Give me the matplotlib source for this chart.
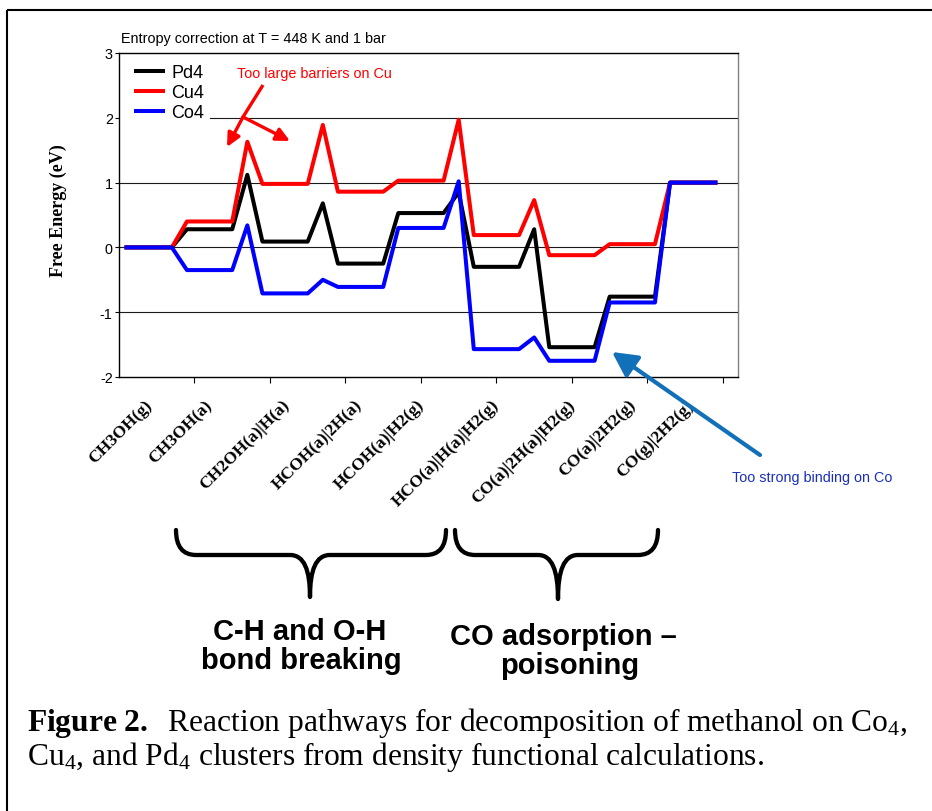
import numpy as np
import matplotlib
matplotlib.use("Agg")
import matplotlib.pyplot as plt
from matplotlib.path import Path
from matplotlib.patches import PathPatch, FancyArrowPatch, Rectangle
from matplotlib.lines import Line2D
from matplotlib.transforms import Affine2D

# free energy (eV) along the reaction coordinate, 40 points per cluster
steps = list(range(40))
pd4 = [0.0, 0.0, 0.0, 0.0, 0.28, 0.28, 0.28, 0.28, 1.12,
       0.09, 0.09, 0.09, 0.09, 0.68, -0.25, -0.25, -0.25, -0.25,
       0.53, 0.53, 0.53, 0.53, 0.85, -0.30, -0.30, -0.30, -0.30, 0.28,
       -1.54, -1.54, -1.54, -1.54, -0.76, -0.76, -0.76, -0.76,
       1.0, 1.0, 1.0, 1.0]
cu4 = [0.0, 0.0, 0.0, 0.0, 0.40, 0.40, 0.40, 0.40, 1.63,
       0.98, 0.98, 0.98, 0.98, 1.89, 0.86, 0.86, 0.86, 0.86,
       1.03, 1.03, 1.03, 1.03, 1.97, 0.19, 0.19, 0.19, 0.19, 0.73,
       -0.12, -0.12, -0.12, -0.12, 0.05, 0.05, 0.05, 0.05,
       1.0, 1.0, 1.0, 1.0]
co4 = [0.0, 0.0, 0.0, 0.0, -0.35, -0.35, -0.35, -0.35, 0.34,
       -0.71, -0.71, -0.71, -0.71, -0.50, -0.61, -0.61, -0.61, -0.61,
       0.30, 0.30, 0.30, 0.30, 1.02, -1.57, -1.57, -1.57, -1.57, -1.39,
       -1.75, -1.75, -1.75, -1.75, -0.85, -0.85, -0.85, -0.85,
       1.0, 1.0, 1.0, 1.0]

states = ["CH3OH(g)", "CH3OH(a)", "CH2OH(a)|H(a)", "HCOH(a)|2H(a)",
          "HCOH(a)|H2(g)", "HCO(a)|H(a)|H2(g)", "CO(a)|2H(a)|H2(g)",
          "CO(a)|2H2(g)", "CO(g)|2H2(g)"]

W, H = 932, 812
plt.rcParams["font.family"] = ["Liberation Sans", "DejaVu Sans"]
plt.rcParams["mathtext.fontset"] = "custom"
plt.rcParams["mathtext.rm"] = "Liberation Serif"
plt.rcParams["mathtext.bf"] = "Liberation Serif:bold"
plt.rcParams["mathtext.it"] = "Liberation Serif:italic"

fig = plt.figure(figsize=(W / 100, H / 100), dpi=100)
# pixel coordinates on the page, origin top-left
page = Affine2D().scale(1 / W, -1 / H).translate(0, 1) + fig.transFigure

ax = fig.add_axes([119 / W, 1 - 378 / H, (738 - 119) / W, (378 - 54) / H])
ax.plot(steps, pd4, color="black", lw=2.9, label="Pd4", zorder=3)
ax.plot(steps, cu4, color="#ff0000", lw=2.9, label="Cu4", zorder=3)
ax.plot(steps, co4, color="#0000ff", lw=2.9, label="Co4", zorder=3)

ax.set_xlim(-0.5, 40.5)
ax.set_ylim(-2, 3)

for y in (-1, 0, 1):
    ax.axhline(y, color="#1a1a1a", lw=0.8, zorder=1)
ax.axhline(2, xmin=0.147, color="#1a1a1a", lw=0.8, zorder=1)

for side in ("left", "bottom", "top"):
    ax.spines[side].set_color("black")
    ax.spines[side].set_linewidth(1.0)
ax.spines["right"].set_color("#808080")
ax.spines["right"].set_linewidth(1.0)

ax.set_yticks([-2, -1, 0, 1, 2, 3])
ax.set_yticklabels(["-2", "-1", "0", "1", "2", "3"])
ax.tick_params(axis="y", length=3, width=0.8, pad=1.5, labelsize=10.4)

label_at = [1.9, 5.9, 11.0, 15.8, 19.9, 24.9, 29.9, 33.9, 37.8]
ax.set_xticks(label_at)
ax.set_xticklabels(states, rotation=45, ha="right",
                   fontfamily="Liberation Serif", fontweight="bold", fontsize=12.5)
ax.tick_params(axis="x", which="major", length=0, pad=14)
ax.set_xticks(np.arange(4.5, 40, 5), minor=True)
ax.tick_params(axis="x", which="minor", length=4.5, width=0.8)

ax.legend(loc="upper left", bbox_to_anchor=(0.0275, 0.966), frameon=False,
          fontsize=13, handlelength=1.5, handletextpad=0.44,
          labelspacing=0.17, borderpad=0, borderaxespad=0)

fig.text(58, 211, "Free Energy (eV)", transform=page, rotation=90,
         ha="center", va="center", family="Liberation Serif",
         fontweight="bold", fontsize=13)
fig.text(121, 43, "Entropy correction at T = 448 K and 1 bar",
         transform=page, fontsize=10.4, va="baseline")

# barrier callout
fig.text(237, 78, "Too large barriers on Cu", transform=page,
         color="#ff0000", fontsize=10.4, va="baseline")
fig.add_artist(Line2D([263, 243], [86, 118], transform=page,
                      color="#ff0000", lw=2.4, solid_capstyle="butt"))
for tip in [(227, 148), (290, 142)]:
    fig.add_artist(FancyArrowPatch((243, 118), tip, transform=page,
                                   arrowstyle="-|>,head_length=0.45,head_width=0.22",
                                   mutation_scale=18, color="#ff0000", lw=2.4,
                                   shrinkA=0, shrinkB=0))

# binding callout
fig.text(732, 482, "Too strong binding on Co", transform=page,
         color="#1a2fbf", fontsize=10.4, va="baseline")
fig.add_artist(FancyArrowPatch((760, 456), (612, 353), transform=page,
                               arrowstyle="-|>,head_length=0.5,head_width=0.26",
                               mutation_scale=30, color="#1170b8", lw=3.0,
                               shrinkA=0, shrinkB=0))


def brace(x0, xm, x1, top, mid, tip, r=20):
    verts = [(x0, top), (x0, mid), (x0 + r, mid),
             (xm - r, mid), (xm - 0.3 * r, mid), (xm, mid + 0.35 * (tip - mid)), (xm, tip),
             (xm, mid + 0.35 * (tip - mid)), (xm + 0.3 * r, mid), (xm + r, mid),
             (x1 - r, mid), (x1, mid), (x1, top)]
    codes = [Path.MOVETO, Path.CURVE3, Path.CURVE3,
             Path.LINETO, Path.CURVE4, Path.CURVE4, Path.CURVE4,
             Path.CURVE4, Path.CURVE4, Path.CURVE4,
             Path.LINETO, Path.CURVE3, Path.CURVE3]
    fig.add_artist(PathPatch(Path(verts, codes), transform=page, fill=False,
                             lw=3.1, ec="black", capstyle="round", joinstyle="round"))


brace(176, 310, 446, 531, 556, 598)
brace(455, 558, 658, 531, 556, 600)

for x, y, s in [(300, 640, "C-H and O-H"), (301, 669, "bond breaking"),
                (563, 645, "CO adsorption \u2013"), (570, 674, "poisoning")]:
    fig.text(x, y, s, transform=page, ha="center", va="baseline",
             fontsize=21, fontweight="bold")

fig.text(27, 731, r"$\mathbf{Figure\ 2.}$  Reaction pathways for decomposition of methanol on Co$_\mathrm{4}$,",
         transform=page, family="Liberation Serif", fontsize=22.7, va="baseline")
fig.text(27, 765, r"Cu$_\mathrm{4}$, and Pd$_\mathrm{4}$ clusters from density functional calculations.",
         transform=page, family="Liberation Serif", fontsize=22.7, va="baseline")

fig.add_artist(Rectangle((7, 11), 1000, 1000, transform=page, fill=False,
                         ec="black", lw=1.5))

fig.savefig("out.png", dpi=100)
